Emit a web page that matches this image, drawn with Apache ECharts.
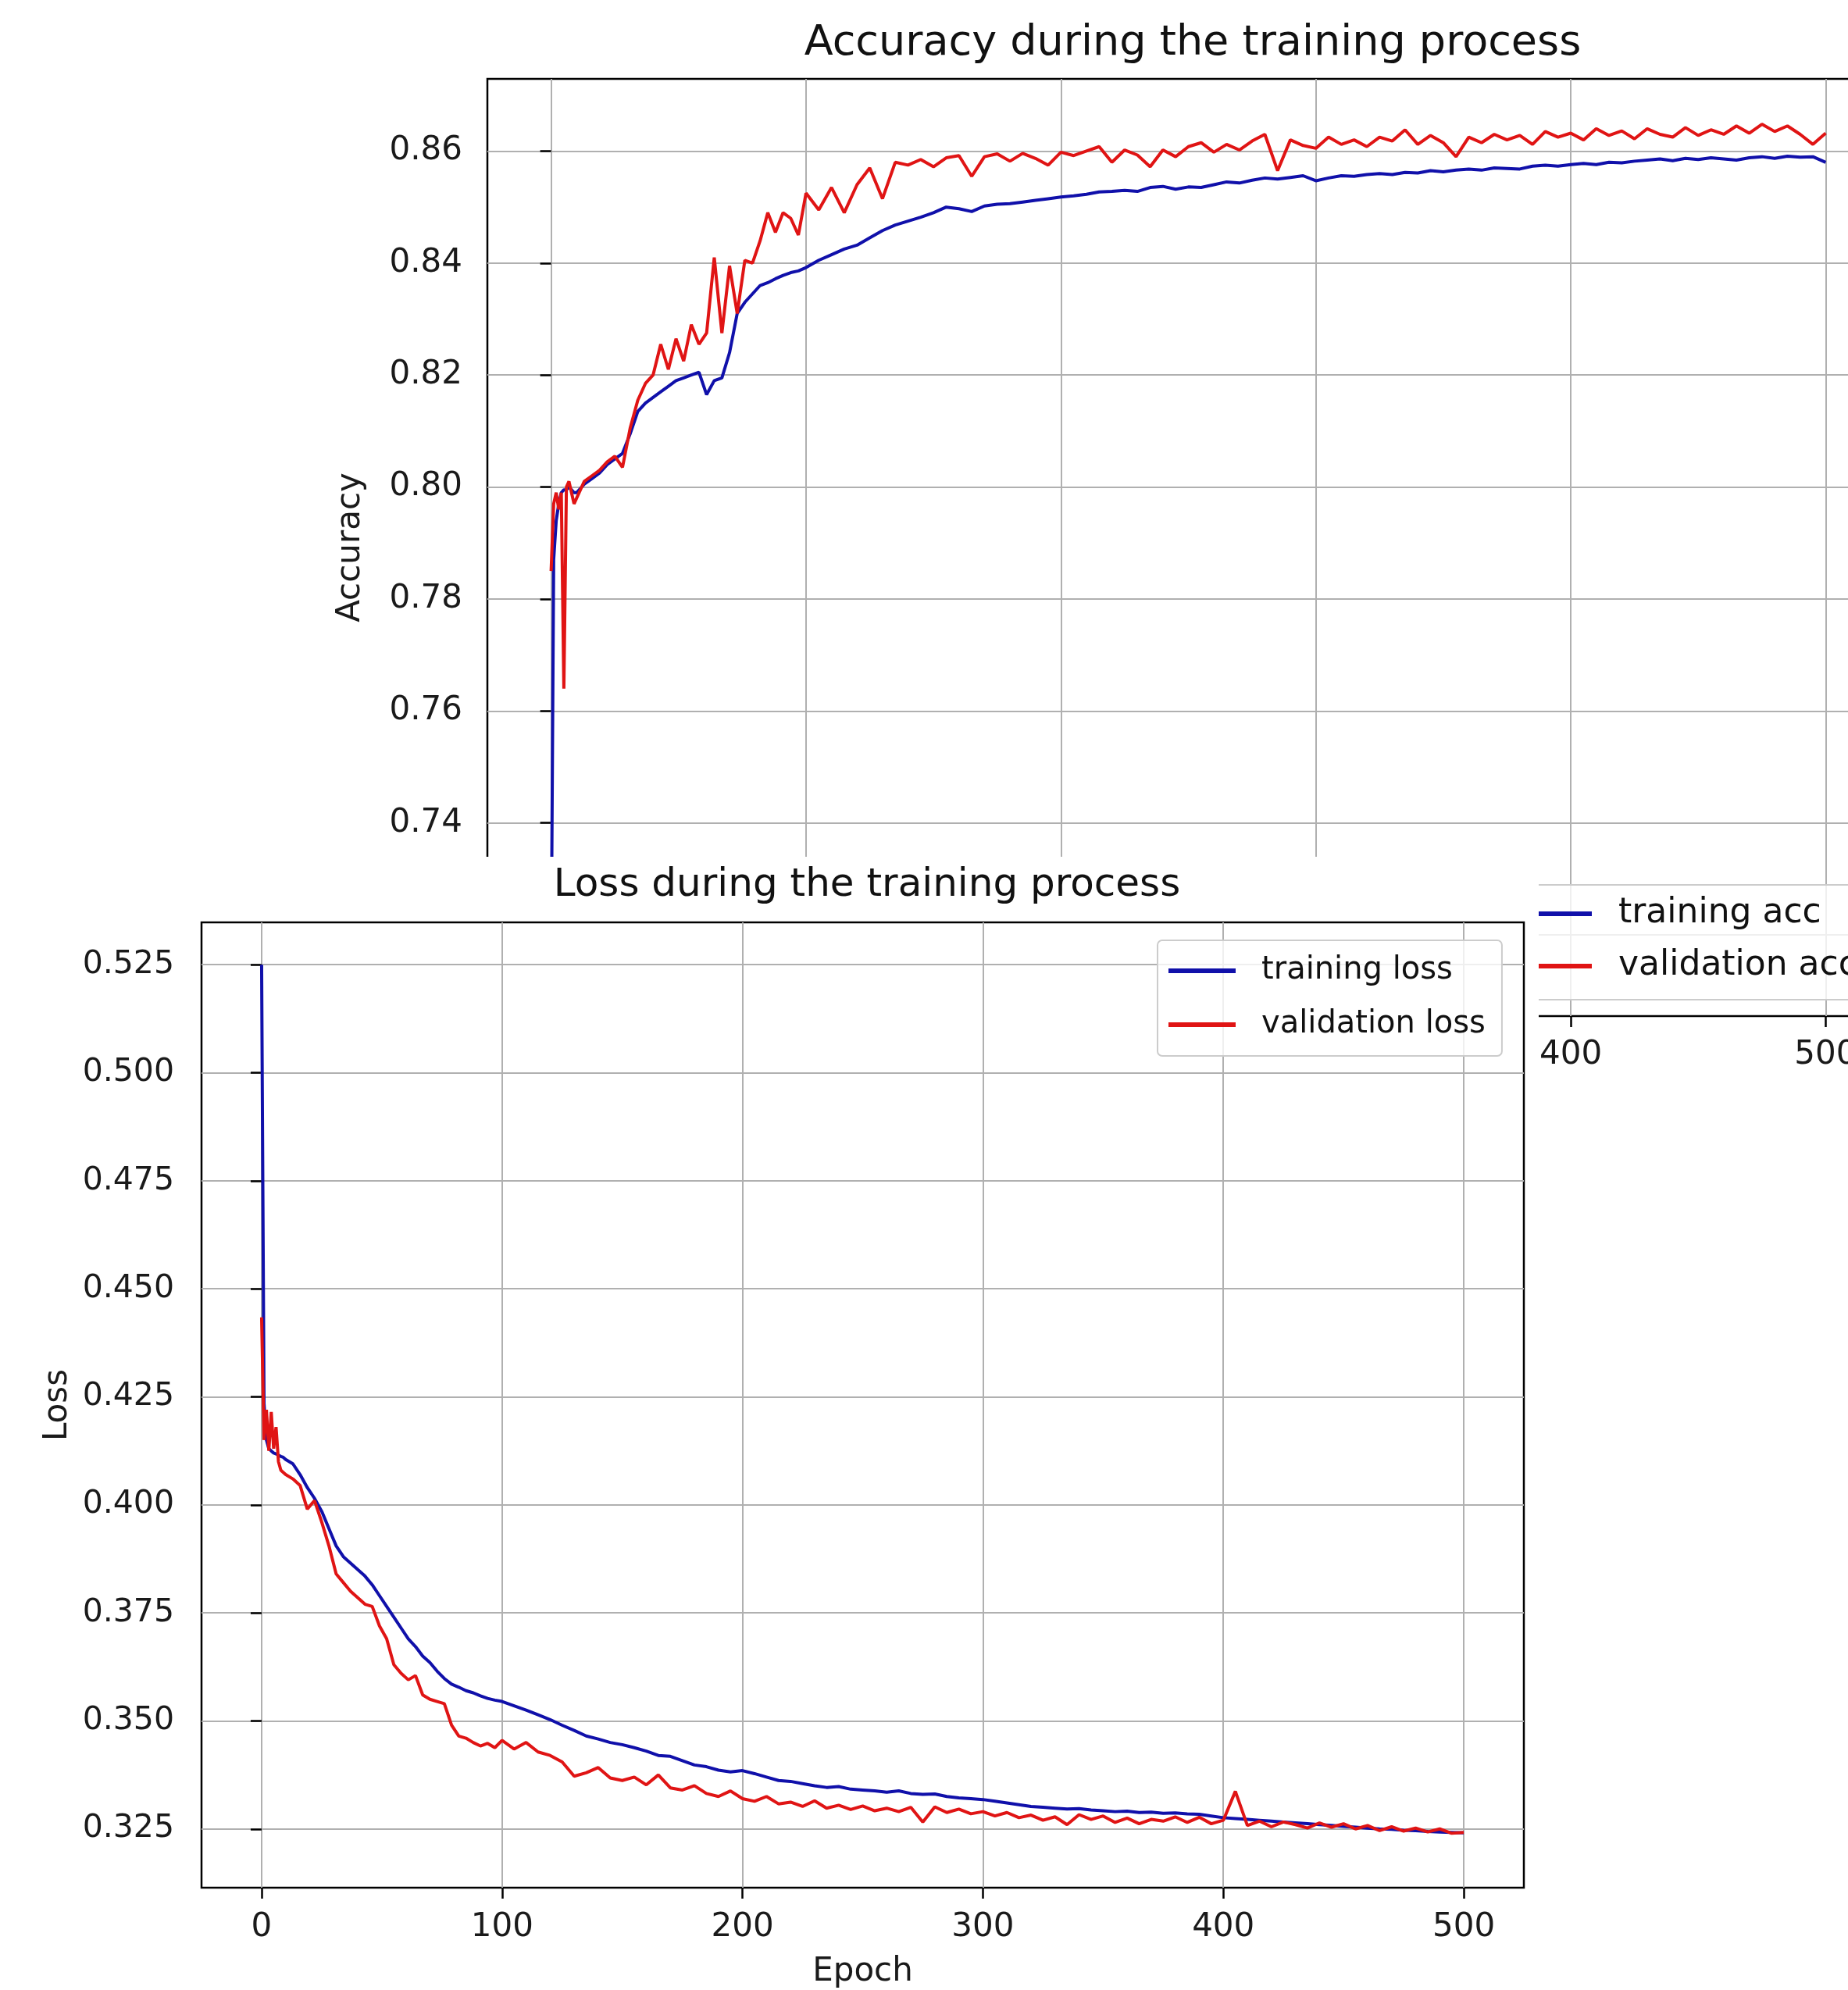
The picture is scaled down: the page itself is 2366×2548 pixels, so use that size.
<!DOCTYPE html>
<html>
<head>
<meta charset="utf-8">
<title>Accuracy and loss during the training process</title>
<script src="https://cdn.jsdelivr.net/npm/echarts@6/dist/echarts.min.js"></script>
<style>
  html, body { margin: 0; padding: 0; background: #fff; }
  #chart { width: 2366px; height: 2548px; }
</style>
</head>
<body>
<div id="chart"></div>
<script>
// epochs (dense at the start)
const epochs = [
  0, 1, 2, 3, 4, 5, 6, 7, 8, 9, 10,
  13, 16, 19, 22, 25, 28, 31, 34, 37, 40,
  43, 46, 49, 52, 55, 58, 61, 64, 67, 70,
  73, 76, 79, 82, 85, 88, 91, 94, 97, 100,
  105, 110, 115, 120, 125, 130, 135, 140, 145, 150,
  155, 160, 165, 170, 175, 180, 185, 190, 195, 200,
  205, 210, 215, 220, 225, 230, 235, 240, 245, 250,
  255, 260, 265, 270, 275, 280, 285, 290, 295, 300,
  305, 310, 315, 320, 325, 330, 335, 340, 345, 350,
  355, 360, 365, 370, 375, 380, 385, 390, 395, 400,
  405, 410, 415, 420, 425, 430, 435, 440, 445, 450,
  455, 460, 465, 470, 475, 480, 485, 490, 495, 500
];

const trainAcc = [
  0.713, 0.787, 0.794, 0.797, 0.799, 0.7995, 0.7995, 0.800, 0.7995, 0.799, 0.799,
  0.8005, 0.8015, 0.8025, 0.804, 0.805, 0.806, 0.8095, 0.8135, 0.815, 0.816,
  0.817, 0.818, 0.819, 0.8195, 0.820, 0.8205, 0.8165, 0.819, 0.8195, 0.824,
  0.831, 0.833, 0.8345, 0.836, 0.8365, 0.8372, 0.8378, 0.8383, 0.8386, 0.8392,
  0.8405, 0.8415, 0.8425, 0.8432, 0.8445, 0.8458, 0.8468, 0.8475, 0.8482, 0.849,
  0.850, 0.8497, 0.8492, 0.8502, 0.8505, 0.8506, 0.8509, 0.8512, 0.8515, 0.8518,
  0.852, 0.8523, 0.8527, 0.8528, 0.853, 0.8528, 0.8535, 0.8537, 0.8532, 0.8536,
  0.8535, 0.854, 0.8545, 0.8543, 0.8548, 0.8552, 0.855, 0.8553, 0.8556, 0.8547,
  0.8552, 0.8556, 0.8555, 0.8558, 0.856, 0.8558, 0.8562, 0.8561, 0.8565, 0.8563,
  0.8566, 0.8568, 0.8566, 0.857, 0.8569, 0.8568, 0.8573, 0.8575, 0.8573, 0.8576,
  0.8578, 0.8576, 0.858, 0.8579, 0.8582, 0.8584, 0.8586, 0.8583, 0.8587, 0.8585,
  0.8588, 0.8586, 0.8584, 0.8588, 0.859, 0.8587, 0.8591, 0.8589, 0.859, 0.858
];

const valAcc = [
  0.785, 0.797, 0.799, 0.796, 0.799, 0.764, 0.800, 0.801, 0.799, 0.797, 0.798,
  0.801, 0.802, 0.803, 0.8045, 0.8055, 0.8035, 0.8105, 0.8155, 0.8185, 0.820,
  0.8255, 0.821, 0.8265, 0.8225, 0.829, 0.8255, 0.8275, 0.841, 0.8275, 0.8395,
  0.831, 0.8405, 0.840, 0.844, 0.849, 0.8455, 0.849, 0.848, 0.845, 0.8525,
  0.8495, 0.8535, 0.849, 0.854, 0.857, 0.8515, 0.858, 0.8575, 0.8585, 0.8572,
  0.8588, 0.8592, 0.8555, 0.859, 0.8595, 0.8582, 0.8596, 0.8587, 0.8575, 0.8598,
  0.8592, 0.860, 0.8608, 0.858, 0.8602, 0.8593, 0.8572, 0.8602, 0.859, 0.8608,
  0.8615, 0.8598, 0.8612, 0.8602, 0.8618, 0.863, 0.8565, 0.862, 0.861, 0.8605,
  0.8625, 0.8612, 0.862, 0.8608, 0.8625, 0.8618, 0.8638, 0.8612, 0.8628, 0.8615,
  0.859, 0.8625, 0.8615, 0.863, 0.862, 0.8628, 0.8612, 0.8635, 0.8625, 0.8632,
  0.862, 0.864, 0.8628, 0.8636, 0.8622, 0.864, 0.863, 0.8625, 0.8642, 0.8628,
  0.8638, 0.863, 0.8645, 0.8632, 0.8648, 0.8635, 0.8645, 0.863, 0.8612, 0.8632
];

const trainLoss = [
  0.525, 0.4235, 0.415, 0.413, 0.4125, 0.412, 0.4118, 0.4115, 0.4112, 0.411, 0.4105,
  0.4095, 0.407, 0.404, 0.4015, 0.3985, 0.3945, 0.3905, 0.388, 0.3865, 0.385,
  0.3835, 0.3815, 0.379, 0.3765, 0.374, 0.3715, 0.369, 0.3672, 0.365, 0.3635,
  0.3615, 0.3598, 0.3585, 0.3578, 0.357, 0.3565, 0.3558, 0.3552, 0.3548, 0.3545,
  0.3535, 0.3525, 0.3514, 0.3503, 0.349, 0.3478, 0.3465, 0.3458, 0.345, 0.3445,
  0.3438, 0.343, 0.342, 0.3418, 0.3408, 0.3398, 0.3394, 0.3386, 0.3382, 0.3385,
  0.3378, 0.337, 0.3362, 0.336, 0.3355, 0.335, 0.3346, 0.3348, 0.3342, 0.334,
  0.3338, 0.3335, 0.3338, 0.3332, 0.333, 0.3331, 0.3325, 0.3322, 0.332, 0.3318,
  0.3314, 0.331, 0.3306, 0.3302, 0.330, 0.3298, 0.3296, 0.3297, 0.3294, 0.3292,
  0.329, 0.3291, 0.3288, 0.3289, 0.3286, 0.3287, 0.3285, 0.3284, 0.328, 0.3276,
  0.3274, 0.3272, 0.327, 0.3268, 0.3266, 0.3264, 0.3262, 0.326, 0.3258, 0.3256,
  0.3254, 0.3252, 0.325, 0.3249, 0.3247, 0.3246, 0.3244, 0.3243, 0.3242, 0.3241
];

const valLoss = [
  0.4434, 0.415, 0.422, 0.4125, 0.4215, 0.413, 0.418, 0.410, 0.408, 0.4075, 0.407,
  0.406, 0.4045, 0.399, 0.401, 0.396, 0.3905, 0.384, 0.382, 0.380, 0.3785,
  0.377, 0.3765, 0.372, 0.369, 0.363, 0.361, 0.3595, 0.3605, 0.356, 0.355,
  0.3545, 0.354, 0.349, 0.3465, 0.346, 0.345, 0.3442, 0.3448, 0.3438, 0.3455,
  0.3435, 0.345, 0.3428, 0.342, 0.3405, 0.3372, 0.338, 0.3392, 0.3368, 0.3362,
  0.337, 0.3352, 0.3375, 0.3345, 0.334, 0.335, 0.3332, 0.3325, 0.3338, 0.332,
  0.3314, 0.3325, 0.3308, 0.3312, 0.3302, 0.3315, 0.3298, 0.3305, 0.3295, 0.3303,
  0.3292, 0.3298, 0.329, 0.330, 0.3266, 0.3301, 0.3288, 0.3296, 0.3285, 0.329,
  0.328, 0.3288, 0.3276, 0.3282, 0.327, 0.3278, 0.326, 0.3283, 0.3272, 0.328,
  0.3265, 0.3275, 0.3262, 0.3272, 0.3268, 0.3278, 0.3265, 0.3277, 0.3262, 0.327,
  0.3337, 0.3258, 0.3268, 0.3255, 0.3266, 0.326, 0.3252, 0.3264, 0.3254, 0.3262,
  0.325, 0.3258, 0.3246, 0.3255, 0.3245, 0.3252, 0.3243, 0.325, 0.324, 0.3242
];

const epochTicks = [0, 100, 200, 300, 400, 500];
const accTicks = [0.72, 0.74, 0.76, 0.78, 0.80, 0.82, 0.84, 0.86];
const lossTicks = [0.325, 0.350, 0.375, 0.400, 0.425, 0.450, 0.475, 0.500, 0.525];

const blue = '#1010aa';
const red = '#e01414';
const font = 'DejaVu Sans';
const gridColor = '#b0b0b0';

const pairs = ys => epochs.map((e, i) => [e, ys[i]]);

function valueAxis(gridIndex, min, max, ticks, fmt, fontSize, margin, z) {
  return {
    gridIndex: gridIndex,
    type: 'value',
    min: min,
    max: max,
    z: z,
    axisLine: { show: false },
    axisTick: { customValues: ticks, length: 14, lineStyle: { color: '#000', width: 2.5 } },
    axisLabel: {
      customValues: ticks, margin: margin, formatter: fmt,
      fontFamily: font, fontSize: fontSize, color: '#1a1a1a'
    },
    splitLine: { show: true, lineStyle: { color: gridColor, width: 2 } }
  };
}

const chart = echarts.init(document.getElementById('chart'));

const accX = valueAxis(0, -25, 525, epochTicks, v => String(v), 42, 29, 1);
const lossX = valueAxis(1, -25, 525, epochTicks, v => String(v), 42, 30, 10);
lossX.name = 'Epoch';
lossX.nameLocation = 'middle';
lossX.nameGap = 87;
lossX.nameTextStyle = { fontFamily: font, fontSize: 42, color: '#1a1a1a' };

const accY = valueAxis(0, 0.7055, 0.8729, accTicks, v => v.toFixed(2), 42, 32, 1);
accY.name = 'Accuracy';
accY.nameLocation = 'middle';
accY.nameGap = 154;
accY.nameTextStyle = { fontFamily: font, fontSize: 42, color: '#1a1a1a' };

const lossY = valueAxis(1, 0.3114, 0.5348, lossTicks, v => v.toFixed(3), 41, 35, 10);
lossY.name = 'Loss';
lossY.nameLocation = 'middle';
lossY.nameGap = 159;
lossY.nameTextStyle = { fontFamily: font, fontSize: 42, color: '#1a1a1a' };

function lineSeries(name, xi, ys, color, z) {
  return {
    name: name,
    type: 'line',
    xAxisIndex: xi,
    yAxisIndex: xi,
    data: pairs(ys),
    symbol: 'none',
    showSymbol: false,
    z: z,
    lineStyle: { color: color, width: 4 },
    itemStyle: { color: color }
  };
}

const option = {
  animation: false,
  backgroundColor: '#ffffff',
  title: [
    {
      text: 'Accuracy during the training process',
      left: 1522, top: 24, textAlign: 'center', z: 1,
      textStyle: { fontFamily: font, fontSize: 54, fontWeight: 'normal', color: '#111' }
    },
    {
      text: 'Loss during the training process',
      left: 1105, top: 1104, textAlign: 'center', z: 20,
      textStyle: { fontFamily: font, fontSize: 50, fontWeight: 'normal', color: '#111' }
    }
  ],
  legend: [
    {
      data: ['training acc', 'validation acc'],
      orient: 'vertical', left: 1938, top: 1133, z: 3,
      icon: 'rect', itemWidth: 86, itemHeight: 6, itemGap: 23,
      padding: [15, 24, 21, 14],
      backgroundColor: 'rgba(255,255,255,0.8)',
      borderColor: '#cccccc', borderWidth: 2, borderRadius: 6,
      selectedMode: false,
      textStyle: { fontFamily: font, fontSize: 44, lineHeight: 44, color: '#111', padding: [0, 0, 0, 29] }
    },
    {
      data: ['training loss', 'validation loss'],
      orient: 'vertical', left: 1482, top: 1204, z: 20,
      icon: 'rect', itemWidth: 86, itemHeight: 6, itemGap: 29,
      padding: [19, 21, 20, 14],
      backgroundColor: 'rgba(255,255,255,0.8)',
      borderColor: '#cccccc', borderWidth: 2, borderRadius: 6,
      selectedMode: false,
      textStyle: { fontFamily: font, fontSize: 40, lineHeight: 40, color: '#111', padding: [0, 0, 0, 28] }
    }
  ],
  grid: [
    { left: 624, top: 101, width: 1795, height: 1200, outerBoundsMode: 'none', show: true, backgroundColor: '#fff', borderColor: '#000', borderWidth: 2.5, z: 0 },
    { left: 258, top: 1181, width: 1693, height: 1236, outerBoundsMode: 'none', show: true, backgroundColor: 'transparent', borderColor: '#000', borderWidth: 2.5, z: 10 }
  ],
  xAxis: [accX, lossX],
  yAxis: [accY, lossY],
  // white sheet of the loss figure lying over the lower part of the accuracy figure
  graphic: [
    { type: 'rect', left: 0, top: 1097, z: 5, silent: true, shape: { width: 1970, height: 1451 }, style: { fill: '#ffffff' } }
  ],
  series: [
    lineSeries('training acc', 0, trainAcc, blue, 2),
    lineSeries('validation acc', 0, valAcc, red, 3),
    lineSeries('training loss', 1, trainLoss, blue, 15),
    lineSeries('validation loss', 1, valLoss, red, 16)
  ]
};

chart.setOption(option);
</script>
</body>
</html>
